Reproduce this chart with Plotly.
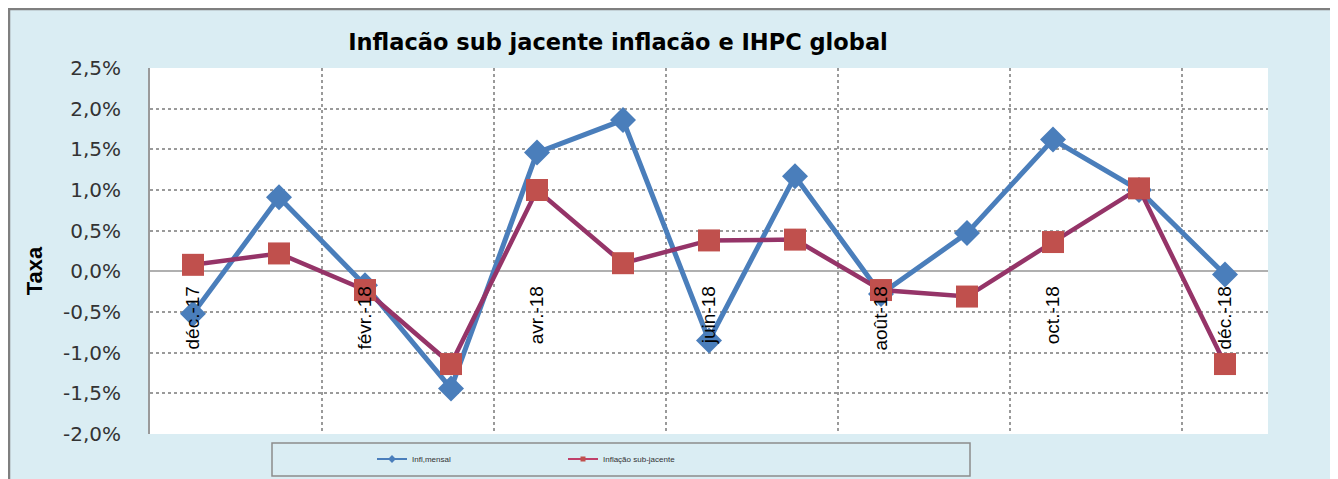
import plotly.graph_objects as go

months = ["déc.-17", "janv.-18", "févr.-18", "mars-18", "avr.-18", "mai-18", "juin-18",
          "juil.-18", "août-18", "sept.-18", "oct.-18", "nov.-18", "déc.-18"]
infl_mensal = [-0.52, 0.91, -0.17, -1.44, 1.46, 1.86, -0.85, 1.17, -0.28, 0.47, 1.62, 1.00, -0.04]
infl_sub = [0.08, 0.22, -0.23, -1.14, 1.00, 0.10, 0.38, 0.39, -0.23, -0.31, 0.36, 1.02, -1.14]
y_ticks = [-2.0, -1.5, -1.0, -0.5, 0.0, 0.5, 1.0, 1.5, 2.0, 2.5]

# the page body keeps its default 8px margin, which gives the white strip round the frame
OFF = 8
W, H = 1338 - OFF, 479 - OFF
L, T = 150 - OFF, 68 - OFF
R, B = 1338 - 1268, 479 - 434
pw, ph = W - L - R, H - T - B


def px(x):
    # window x -> paper fraction
    return (x - OFF - L) / pw


def py(y):
    # window y -> paper fraction
    return (H - B - (y - OFF)) / ph


idx = list(range(len(months)))
ymin, ymax = y_ticks[0], y_ticks[-1]
blue, red_line, red_mark = "#4A7EBB", "#953468", "#C0504D"

fig = go.Figure()
fig.add_trace(go.Scatter(x=idx, y=infl_mensal, name="Infl,mensal", mode="lines+markers",
                         line=dict(color=blue, width=5), showlegend=False,
                         marker=dict(symbol="diamond", size=20, color=blue)))
fig.add_trace(go.Scatter(x=idx, y=infl_sub, name="Inflação sub-jacente", mode="lines+markers",
                         line=dict(color=red_line, width=4.5), showlegend=False,
                         marker=dict(symbol="square", size=22, color=red_mark)))
# small legend samples, as in the original
fig.add_trace(go.Scatter(x=[None], y=[None], name="Infl,mensal", mode="lines+markers",
                         line=dict(color=blue, width=2), marker=dict(symbol="diamond", size=6, color=blue)))
fig.add_trace(go.Scatter(x=[None], y=[None], name="Inflação sub-jacente", mode="lines+markers",
                         line=dict(color="#C0406A", width=2), marker=dict(symbol="square", size=5, color=red_mark)))
# invisible trace to carry the boundary gridlines
fig.add_trace(go.Scatter(x=[idx[0]], y=[0], xaxis="x2", showlegend=False,
                         mode="markers", marker=dict(opacity=0), hoverinfo="skip"))

grid = dict(gridcolor="#9A9A9A", griddash="dot", gridwidth=2)

fig.update_layout(
    width=W, height=H,
    margin=dict(l=L, r=R, t=T, b=B, autoexpand=False),
    paper_bgcolor="#DAEDF3",
    plot_bgcolor="white",
    showlegend=True,
    title=dict(text="<b>Inflacão sub jacente inflacão e IHPC global</b>",
               x=(618 - OFF) / W, xanchor="center", y=1 - (42 - OFF) / H, yanchor="middle",
               font=dict(family="DejaVu Sans", size=22.5, color="black")),
    xaxis=dict(range=[-0.5, len(months) - 0.5], tickvals=idx[::2], ticktext=months[::2],
               tickangle=-90, showgrid=False, zeroline=False, showline=False,
               anchor="free", position=(0 - ymin) / (ymax - ymin),
               ticks="", ticklabelstandoff=10,
               tickfont=dict(family="Liberation Sans", size=19, color="black")),
    xaxis2=dict(range=[-0.5, len(months) - 0.5], overlaying="x",
                tickvals=[i + 1.5 for i in idx[:-1:2]], showticklabels=False,
                showgrid=True, **grid, zeroline=False, showline=False),
    yaxis=dict(range=[ymin, ymax], tickvals=y_ticks,
               ticktext=[("%.1f%%" % v).replace(".", ",") for v in y_ticks],
               showgrid=True, **grid,
               zeroline=True, zerolinecolor="#B0B0B0", zerolinewidth=2,
               showline=True, linecolor="#9A9A9A", linewidth=2,
               ticks="", ticklabelstandoff=23,
               tickfont=dict(family="DejaVu Sans", size=20, color="#333333")),
    legend=dict(orientation="h", x=px(372), xanchor="left", y=py(459), yanchor="middle",
                bgcolor="rgba(0,0,0,0)", borderwidth=0, entrywidth=146,
                font=dict(family="Liberation Sans", size=8, color="#333333")),
    annotations=[dict(text="<b>Taxa</b>", textangle=-90, xref="paper", yref="paper",
                      x=px(34), xanchor="center", y=(0 - ymin) / (ymax - ymin), yanchor="middle",
                      showarrow=False,
                      font=dict(family="Liberation Sans", size=22, color="black"))],
    shapes=[
        # legend box
        dict(type="rect", xref="paper", yref="paper", x0=px(272), x1=px(970), y0=py(476), y1=py(443),
             line=dict(color="#8C8C8C", width=1.5), fillcolor="rgba(0,0,0,0)"),
        # outer frame (top and left)
        dict(type="line", xref="paper", yref="paper", x0=px(OFF), x1=px(1338), y0=py(OFF + 1), y1=py(OFF + 1),
             line=dict(color="#7F7F7F", width=2.5)),
        dict(type="line", xref="paper", yref="paper", x0=px(OFF + 1), x1=px(OFF + 1), y0=py(OFF), y1=py(479),
             line=dict(color="#7F7F7F", width=2.5)),
    ],
)

fig.write_html("out.html", config={"displayModeBar": False})
